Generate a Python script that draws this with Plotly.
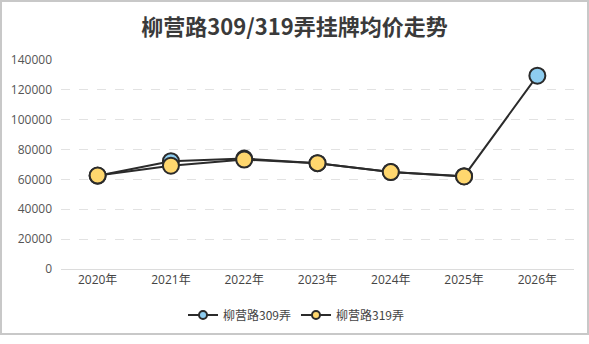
import plotly.graph_objects as go

years = ["2020年", "2021年", "2022年", "2023年", "2024年", "2025年", "2026年"]
s309_name = "柳营路309弄"
s309 = [62500, 72200, 74000, 70900, 65000, 62200, 129500]
s319_name = "柳营路319弄"
s319 = [62600, 69200, 73300, 70900, 64900, 62000, None]
yticks = [0, 20000, 40000, 60000, 80000, 100000, 120000, 140000]

colors = {"309": "#8ecdf0", "319": "#ffd76e"}
line_c = "#2b2b2b"

W, H = 589, 344
ML, MR, MT, MB = 61, 15, 60, 75
pw = W - ML - MR
ph = H - MT - MB

fig = go.Figure()
for name, vals, col in [(s309_name, s309, colors["309"]), (s319_name, s319, colors["319"])]:
    fig.add_trace(go.Scatter(
        x=years, y=vals, name=name, mode="lines+markers", showlegend=False,
        legendgroup=name,
        line=dict(color=line_c, width=2),
        marker=dict(size=16, color=col, line=dict(color=line_c, width=2)),
    ))
for name, col in [(s309_name, colors["309"]), (s319_name, colors["319"])]:
    fig.add_trace(go.Scatter(
        x=[None], y=[None], name=name, mode="lines+markers", legendgroup=name,
        line=dict(color=line_c, width=2),
        marker=dict(size=8, color=col, line=dict(color=line_c, width=2)),
    ))


def px2x(p):
    return (p - ML) / pw


def py2y(p):
    return (H - MB - p) / ph


fig.add_shape(type="rect", xref="paper", yref="paper",
              x0=px2x(1), x1=px2x(588), y0=py2y(334), y1=py2y(1),
              line=dict(color="#c8c8c8", width=2), fillcolor="rgba(0,0,0,0)", layer="below")

tick_font = "Open Sans, Noto Sans CJK SC, sans-serif"
fig.update_layout(
    width=W, height=H,
    margin=dict(l=ML, r=MR, t=MT, b=MB),
    paper_bgcolor="white", plot_bgcolor="white",
    font=dict(family="Noto Sans CJK SC, sans-serif", size=12, color="#555"),
    title=dict(text="<b>柳营路309/319弄挂牌均价走势</b>", x=0.5, xanchor="center",
               y=1 - 27 / H, yanchor="middle",
               font=dict(size=22, color="#3a3a3a", family="Noto Sans CJK SC, sans-serif")),
    showlegend=True,
    legend=dict(orientation="h", x=px2x(296), xanchor="center", y=py2y(315), yanchor="middle",
                font=dict(size=12, color="#444"), itemwidth=30, tracegroupgap=0),
    xaxis=dict(type="category", range=[-0.5, 6.5], showgrid=False, showline=True,
               linecolor="#dcdcdc", linewidth=1, ticks="",
               tickfont=dict(size=12, color="#444", family=tick_font),
               zeroline=False),
    yaxis=dict(range=[0, 140000], tickvals=yticks, ticktext=[str(v) for v in yticks],
               showgrid=True, gridcolor="#e2e2e2", griddash="dash", gridwidth=1,
               zeroline=False, showline=False, ticks="", ticklabelstandoff=8,
               tickfont=dict(size=12, color="#555", family=tick_font)),
)

fig.write_html("out.html")
